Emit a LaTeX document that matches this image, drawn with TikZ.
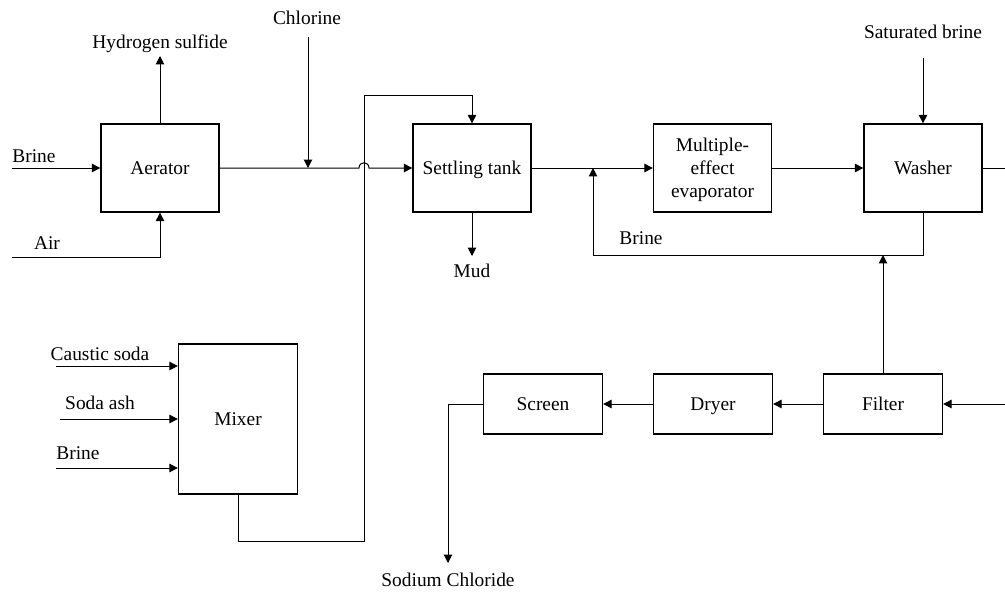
\documentclass[tikz,border=0pt]{standalone}
\usepackage{fontspec}
\setmainfont{Liberation Serif}
\usetikzlibrary{arrows.meta}
\begin{document}
\begin{tikzpicture}[x=0.5pt,y=-0.5pt,
  box/.style={draw,line width=0.65pt,minimum width=59pt,minimum height=44pt,inner sep=0pt,align=center},
  sbox/.style={box,text height=0.78em,text depth=0.14em},
  lbl/.style={inner sep=0pt,text height=0.78em,text depth=0.14em},
  flow/.style={line width=0.5pt,-{Triangle[length=4.2pt,width=4.2pt]}},
  plain/.style={line width=0.5pt},
  font=\fontsize{9.7}{11.6}\selectfont]
\useasboundingbox (0,0) rectangle (1005,594);
% boxes
\node[sbox] (aer) at (160,168) {Aerator};
\node[sbox] (set) at (472,168) {Settling tank};
\node[box,text depth=0pt] (eva) at (712.5,168) {Multiple-\\effect\\evaporator};
\node[sbox] (was) at (923,168) {Washer};
\node[sbox,minimum width=59.5pt,minimum height=75pt] (mix) at (238,419) {Mixer};
\node[sbox,minimum width=59.5pt,minimum height=30pt] (scr) at (543,404) {Screen};
\node[sbox,minimum width=59.5pt,minimum height=30pt] (dry) at (713,404) {Dryer};
\node[sbox,minimum width=59.5pt,minimum height=30pt] (fil) at (883,404) {Filter};
% labels
\node[lbl] (lbrine) at (34,156) {Brine};
\node[lbl] (lair) at (47,243) {Air};
\node[lbl] (lh2s) at (160,42) {Hydrogen sulfide};
\node[lbl] (lcl) at (307,18) {Chlorine};
\node[lbl] (lmud) at (472,271) {Mud};
\node[lbl] (lbrine2) at (641,238) {Brine};
\node[lbl] (lsat) at (923,32) {Saturated brine};
\node[lbl] (lnacl) at (448,580) {Sodium Chloride};
\node[lbl] (lcs) at (100,354) {Caustic soda};
\node[lbl] (lsa) at (100,403) {Soda ash};
\node[lbl] (lbr3) at (78,453) {Brine};
% free ends
\coordinate (brineIn) at (12,168);
\coordinate (airIn) at (12,257);
\coordinate (h2sEnd) at (160,56);
\coordinate (clTop) at (308,37);
\coordinate (clJoin) at (308,168);
\coordinate (mudEnd) at (472,256);
\coordinate (sbTop) at (923,58);
\coordinate (wasOut) at (1005,168);
\coordinate (brineJoin) at (593,168);
\coordinate (filIn) at (1005,404);
\coordinate (naclEnd) at (448,563);
\coordinate (csIn) at (56,366);
\coordinate (saIn) at (60,419);
\coordinate (brIn) at (56,468);
% connectors
\draw[flow] (brineIn) -- (aer.west);
\draw[flow] (airIn) -| (aer.south);
\draw[flow] (aer.north) -- (h2sEnd);
\draw[flow] (clTop) -- (clJoin);
\draw[flow] (aer.east) -- (359,168) .. controls (359,161) and (369,161) .. (369,168) -- (set.west);
\draw[flow] (mix.south) -- (238,541) -- (364,541) -- (364,95) -| (set.north);
\draw[flow] (set.south) -- (mudEnd);
\draw[flow] (set.east) -- (eva.west);
\draw[flow] (eva.east) -- (was.west);
\draw[flow] (sbTop) -- (was.north);
\draw[plain] (was.east) -- (wasOut);
\draw[flow] (was.south) -- (923,255) -| (brineJoin);
\draw[flow] (fil.north) -- (883,255);
\draw[flow] (filIn) -- (fil.east);
\draw[flow] (fil.west) -- (dry.east);
\draw[flow] (dry.west) -- (scr.east);
\draw[flow] (scr.west) -| (naclEnd);
\draw[flow] (csIn) -- (csIn -| mix.west);
\draw[flow] (saIn) -- (saIn -| mix.west);
\draw[flow] (brIn) -- (brIn -| mix.west);
\end{tikzpicture}
\end{document}
